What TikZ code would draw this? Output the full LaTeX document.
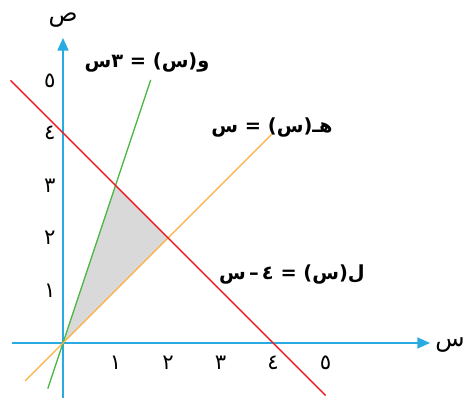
\documentclass[tikz,border=0pt]{standalone}
\usepackage{fontspec}
\TeXXeTstate=1
\newfontfamily\arabicfont[Script=Arabic]{DejaVu Sans}
\usetikzlibrary{arrows.meta}
\definecolor{axisblue}{HTML}{29ABE2}
\definecolor{lred}{HTML}{ED1C24}
\definecolor{lgreen}{HTML}{4DB848}
\definecolor{lorange}{HTML}{FBB040}
\begin{document}
\begin{tikzpicture}[x=1cm,y=1cm,
  axisline/.style={draw=axisblue,line width=0.9pt,-{Triangle[length=2.4mm,width=2.1mm]}},
  graphline/.style={line width=0.75pt},
  ticklab/.style={font=\arabicfont\fontsize{11.5}{13}\selectfont},
  eqlab/.style={font=\arabicfont\bfseries\fontsize{10.5}{13}\selectfont},
  axislab/.style={font=\arabicfont\fontsize{13}{15}\selectfont}]
\useasboundingbox (-1.2,-1.067) rectangle (7.752,6.533);
\coordinate (O) at (0,0);
\coordinate (A) at (1,3);
\coordinate (B) at (2,2);
\fill[black!15] (O) -- (A) -- (B) -- cycle;
\coordinate (xs) at (-0.97,0);
\coordinate (xe) at (6.99,0);
\coordinate (ys) at (0,-1.05);
\coordinate (ye) at (0,5.81);
\draw[axisline] (xs) -- (xe);
\draw[axisline] (ys) -- (ye);
\coordinate (g1) at (-0.29,-0.87);
\coordinate (g2) at (1.67,5.01);
\coordinate (o1) at (-0.72,-0.72);
\coordinate (o2) at (4,4);
\coordinate (r1) at (-1,5);
\coordinate (r2) at (5,-1);
\draw[graphline,lgreen] (g1) -- (g2);
\draw[graphline,lorange] (o1) -- (o2);
\draw[graphline,lred] (r1) -- (r2);
\foreach \i/\d in {1/١,2/٢,3/٣,4/٤,5/٥}{
  \node[ticklab] (xt\i) at (\i,-0.37) {\d};
  \node[ticklab] (yt\i) at (-0.25,\i) {\d};
}
\node[axislab] (ylab) at (0,6.15) {ص};
\node[axislab] (xlab) at (7.37,-0.03) {س};
\node[eqlab] (eqg) at (1.6,5.35) {\beginR و(س) = ٣س\endR};
\node[eqlab] (eqo) at (3.98,4.1) {\beginR هـ(س) = س\endR};
\node[eqlab] (eqr) at (4.36,1.3) {\beginR ل(س) = ٤\,–\,س\endR};
\end{tikzpicture}
\end{document}
